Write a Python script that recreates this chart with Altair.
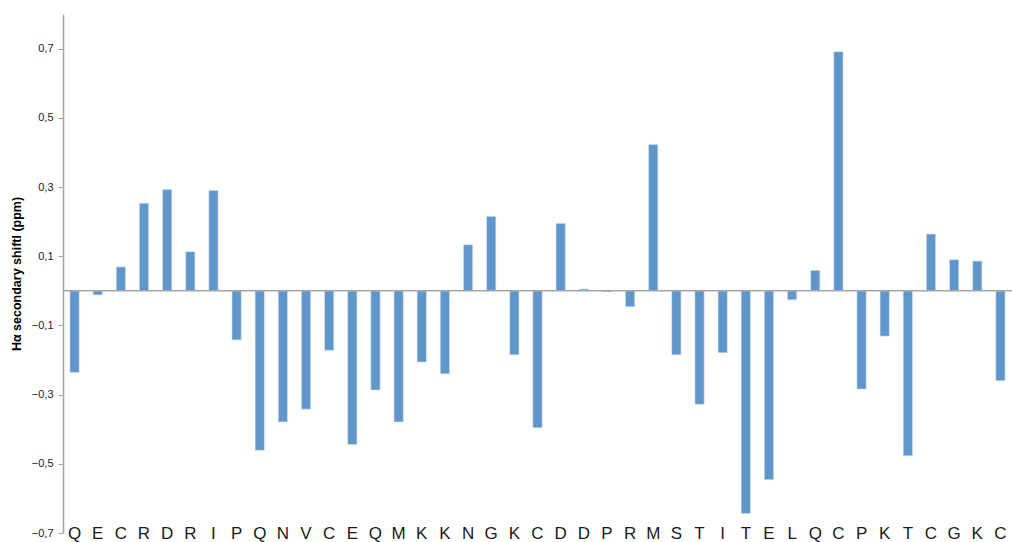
import altair as alt
import pandas as pd

# Residue sequence (one-letter codes) along the x axis
residues = ["Q", "E", "C", "R", "D", "R", "I", "P", "Q", "N", "V", "C", "E", "Q",
            "M", "K", "K", "N", "G", "K", "C", "D", "D", "P", "R", "M", "S", "T",
            "I", "T", "E", "L", "Q", "C", "P", "K", "T", "C", "G", "K", "C"]

# Hα secondary chemical shift per residue (ppm)
shifts = [-0.236, -0.012, 0.069, 0.253, 0.293, 0.113, 0.290, -0.142, -0.461, -0.379,
          -0.342, -0.172, -0.444, -0.287, -0.379, -0.206, -0.240, 0.133, 0.215, -0.185,
          -0.396, 0.195, 0.005, -0.003, -0.046, 0.423, -0.185, -0.328, -0.179, -0.644,
          -0.546, -0.026, 0.059, 0.691, -0.284, -0.131, -0.477, 0.164, 0.090, 0.086,
          -0.260]

y_ticks = [-0.7, -0.5, -0.3, -0.1, 0.1, 0.3, 0.5, 0.7]

df = pd.DataFrame({
    "idx": list(range(len(residues))),
    "res": residues,
    "shift": shifts,
})

label_expr = "[" + ",".join(f"'{r}'" for r in residues) + "][datum.value]"

x_enc = alt.X(
    "idx:O",
    scale=alt.Scale(paddingInner=0.6, paddingOuter=0.3),
    axis=alt.Axis(
        title=None,
        labelExpr=label_expr,
        labelAngle=0,
        labelFont="Liberation Sans",
        labelFontSize=17,
        labelColor="#1a1a1a",
        labelBaseline="alphabetic",
        labelPadding=5,
        ticks=False,
        domain=False,
        grid=False,
    ),
)

bars = alt.Chart(df).mark_bar(
    color="#6096C9", stroke="#d6e4f2", strokeWidth=0.6
).encode(
    x=x_enc,
    y=alt.Y(
        "shift:Q",
        scale=alt.Scale(domain=[-0.7, 0.8], nice=False, zero=False),
        axis=alt.Axis(
            title="Hα secondary shiftl (ppm)",
            titleFont="Liberation Sans",
            titleFontSize=12.5,
            titleFontWeight="bold",
            titleColor="#000000",
            titlePadding=8,
            values=y_ticks,
            labelExpr="replace(format(datum.value, '.1f'), '.', ',')",
            labelFont="Liberation Sans",
            labelFontSize=11,
            labelColor="#1a1a1a",
            labelPadding=5,
            tickSize=5,
            tickColor="#a6a6a6",
            domainColor="#a6a6a6",
            domainWidth=1.5,
            grid=False,
        ),
    ),
)

zero_line = alt.Chart(pd.DataFrame({"z": [0.0]})).mark_rule(
    color="#a6a6a6", strokeWidth=1.5
).encode(y="z:Q")

chart = (
    alt.layer(bars, zero_line)
    .properties(
        width=949,
        height=519,
        padding={"left": 63, "top": 14, "right": 0, "bottom": 9},
        autosize=alt.AutoSizeParams(type="none"),
        background="white",
    )
    .configure_view(stroke=None)
)

chart.save("out.html", embed_options={"renderer": "svg", "actions": False})
